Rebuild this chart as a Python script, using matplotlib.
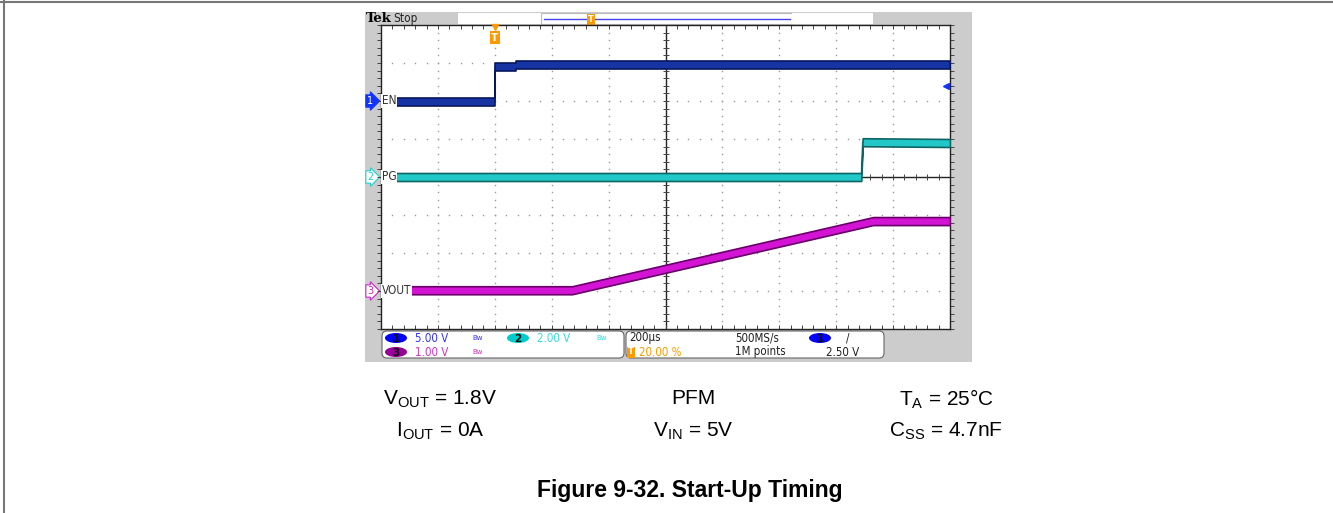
import matplotlib.pyplot as plt
from matplotlib.patches import Rectangle, FancyBboxPatch, Ellipse
import numpy as np

plt.rcParams['font.family'] = ['Liberation Sans', 'DejaVu Sans']
plt.rcParams['mathtext.fontset'] = 'custom'
plt.rcParams['mathtext.rm'] = 'Liberation Sans'

# scope setup: 200us/div, trigger at 20% of record
t_per_div = 200
t_start = -400
n_xdiv, n_ydiv = 10, 8

# channel scale (V/div) and ground level (div from bottom)
en_scale, en_gnd = 5.0, 6.0
pg_scale, pg_gnd = 2.0, 4.0
vo_scale, vo_gnd = 1.0, 1.0

# traces (time in us, level in V)
en_t = [-400, 0, 0, 75, 75, 1600]
en_v = [-0.08, -0.08, 4.5, 4.5, 4.75, 4.75]
pg_t = [-400, 1288, 1293, 1600]
pg_v = [0.0, 0.0, 1.83, 1.79]
vo_t = [-400, 272, 1330, 1600]
vo_v = [0.02, 0.02, 1.84, 1.84]

trig_level = 2.5  # V on ch1

cond_rows = [[r'$\mathrm{V}_{\mathrm{OUT}}$ = 1.8V', 'PFM', r'$\mathrm{T}_{\mathrm{A}}$ = 25°C'],
             [r'$\mathrm{I}_{\mathrm{OUT}}$ = 0A', r'$\mathrm{V}_{\mathrm{IN}}$ = 5V', r'$\mathrm{C}_{\mathrm{SS}}$ = 4.7nF']]
cond_x = [440, 693, 946]
cond_y = [399, 431]
title = 'Figure 9-32. Start-Up Timing'

W, H = 1333, 513
fig = plt.figure(figsize=(W / 100, H / 100), dpi=100)

# page / scope chrome, in pixel coordinates
bg = fig.add_axes([0, 0, 1, 1])
bg.set_xlim(0, W)
bg.set_ylim(H, 0)
bg.axis('off')
bg.plot([3.5, 3.5], [0, H], color='#777777', lw=1.5)
bg.plot([0, W], [1.5, 1.5], color='#777777', lw=1.5)

bg.add_patch(Rectangle((365, 12), 607, 350, fc='#cccccc', ec='none'))
bg.add_patch(Rectangle((458, 13), 83, 11, fc='white', ec='none'))
bg.add_patch(Rectangle((541, 13), 251, 11, fc='white', ec='#bbbbbb', lw=0.8))
bg.add_patch(Rectangle((792, 13), 81, 11, fc='white', ec='none'))
bg.plot([544, 790], [18.5, 18.5], color='#4444ee', lw=1)
bg.text(591, 19, 'T', color='white', fontsize=6, ha='center', va='center', family='DejaVu Sans',
        fontweight='bold', bbox=dict(boxstyle='square,pad=0.12', fc='#ff9900', ec='none'))
bg.text(366, 18.5, 'Tek', fontsize=9.5, fontweight='bold', family='DejaVu Serif', va='center', ha='left')
bg.text(393, 18.5, 'Stop', fontsize=8.5, family='DejaVu Sans', fontstretch='condensed',
        va='center', ha='left', color='#222222')

# bottom readout boxes
sfont = dict(family='DejaVu Sans', fontstretch='condensed', fontsize=8.3)
bg.add_patch(FancyBboxPatch((382, 331), 242, 27, boxstyle='round,pad=0,rounding_size=5',
                            fc='white', ec='#666666', lw=0.8))
bg.add_patch(FancyBboxPatch((626, 331), 258, 27, boxstyle='round,pad=0,rounding_size=5',
                            fc='white', ec='#666666', lw=0.8))
for cx, cy, fc, lab in [(396, 338, '#0000ff', '1'), (518, 338, '#00cccc', '2'),
                        (396, 352, '#990099', '3'), (820, 338, '#0000ff', '1')]:
    bg.add_patch(Ellipse((cx, cy), 22, 10, fc=fc, ec='none'))
    bg.text(cx, cy + 0.5, lab, ha='center', va='center', fontweight='bold', color='#111111',
            family='DejaVu Sans', fontsize=7.5)
bg.text(415, 338, '5.00 V', color='#3333ff', va='center', **sfont)
bg.text(415, 352, '1.00 V', color='#cc33cc', va='center', **sfont)
bg.text(537, 338, '2.00 V', color='#33dddd', va='center', **sfont)
for bx, by, c in [(472, 338, '#3333ff'), (472, 352, '#cc33cc'), (596, 338, '#33dddd')]:
    bg.text(bx, by, 'Bw', color=c, va='center', fontsize=5, family='DejaVu Sans')
bg.text(629, 338, '200µs', color='#222222', va='center', **sfont)
bg.text(631, 352, 'T', color='white', va='center', ha='center', fontsize=6, family='DejaVu Sans',
        fontweight='bold', bbox=dict(boxstyle='square,pad=0.12', fc='#ff9900', ec='none'))
bg.text(639, 352, '20.00 %', color='#ff9900', va='center', **sfont)
bg.text(735, 338, '500MS/s', color='#222222', va='center', **sfont)
bg.text(735, 352, '1M points', color='#222222', va='center', **sfont)
bg.text(846, 338, '/', color='#222222', va='center', **sfont)
bg.text(826, 352, '2.50 V', color='#222222', va='center', **sfont)

# channel ground markers on the left
for gnd, lab, fc, ec, tc in [(en_gnd, '1', '#1133ff', '#1133ff', 'white'),
                             (pg_gnd, '2', 'white', '#22cccc', '#22cccc'),
                             (vo_gnd, '3', 'white', '#cc22cc', '#cc22cc')]:
    py = 329 - gnd * 38
    bg.text(367, py, lab, color=tc, ha='left', va='center', fontsize=7, family='DejaVu Sans',
            bbox=dict(boxstyle='rarrow,pad=0.12', fc=fc, ec=ec, lw=0.8))

# scope graticule
ax = fig.add_axes([381 / W, 1 - 329 / H, 569 / W, 304 / H])
ax.set_zorder(2)
t_end = t_start + n_xdiv * t_per_div
ax.set_xlim(t_start, t_end)
ax.set_ylim(0, n_ydiv)
ax.set_xticks([])
ax.set_yticks([])
for s in ax.spines.values():
    s.set_color('#222222')
    s.set_linewidth(1)

t_mid = t_start + n_xdiv / 2 * t_per_div
fine_t = np.arange(t_start, t_end + 1, t_per_div / 5)
fine_y = np.arange(0, n_ydiv + 0.01, 0.2)
dot = dict(ls='none', marker='s', ms=1.0, color='#999999', mec='none')
for k in range(1, n_xdiv):
    if k != n_xdiv // 2:
        ax.plot(np.full_like(fine_y, t_start + k * t_per_div), fine_y, **dot)
for k in range(1, n_ydiv):
    if k != n_ydiv // 2:
        ax.plot(fine_t, np.full_like(fine_t, k), **dot)
ax.axvline(t_mid, color='#222222', lw=1)
ax.axhline(n_ydiv / 2, color='#222222', lw=1)
tick = dict(ls='none', color='#444444', ms=5, mew=0.7)
ax.plot(np.full_like(fine_y, t_mid), fine_y, marker='_', **tick)
ax.plot(fine_t, np.full_like(fine_t, n_ydiv / 2), marker='|', **tick)
edge = dict(ls='none', color='#444444', ms=3, mew=0.7, clip_on=False)
ax.plot(np.full_like(fine_y, t_start), fine_y, marker=0, **edge)
ax.plot(np.full_like(fine_y, t_end), fine_y, marker=1, **edge)
ax.plot(fine_t, np.zeros_like(fine_t), marker=2, **edge)
ax.plot(fine_t, np.full_like(fine_t, n_ydiv), marker=3, **edge)

# traces: noisy band drawn as a filled strip, fast edges as a thin line behind it
half = 4 / 38  # half band height in div
for tt, vv, scale, gnd, c, dark, edge_c in [
        (en_t, en_v, en_scale, en_gnd, '#1634a4', '#08185e', '#6a7fae'),
        (pg_t, pg_v, pg_scale, pg_gnd, '#22c8c8', '#0f6464', '#7fc8c8'),
        (vo_t, vo_v, vo_scale, vo_gnd, '#d414d4', '#6a006a', '#b070b0')]:
    yy = gnd + np.array(vv) / scale
    ax.plot(tt, yy, color=edge_c, lw=1.2, zorder=4)
    ax.fill_between(tt, yy - half, yy + half, color=c, ec=dark, lw=1.2, zorder=5)

# trace labels
for gnd, lab in [(en_gnd, 'EN'), (pg_gnd, 'PG'), (vo_gnd, 'VOUT')]:
    ax.text(t_start + 3, gnd, lab, color='#333333', va='center', ha='left', fontsize=8.5,
            family='DejaVu Sans', fontstretch='condensed', zorder=6,
            bbox=dict(boxstyle='square,pad=0.08', fc='white', ec='none'))

# trigger position and level markers
ax.plot([0], [n_ydiv - 0.04], marker='v', color='#ff9900', ms=5, clip_on=False, zorder=7)
ax.text(0, n_ydiv - 0.33, 'T', color='white', ha='center', va='center', fontsize=7.5, family='DejaVu Sans',
        fontweight='bold', zorder=7, bbox=dict(boxstyle='square,pad=0.12', fc='#ff9900', ec='none'))
ax.plot([t_end - 14], [en_gnd + trig_level / en_scale - 0.1], marker='<', color='#1133ff', ms=4,
        clip_on=False, zorder=7)

# test conditions and caption
for row, ypix in zip(cond_rows, cond_y):
    for txt, xpix in zip(row, cond_x):
        bg.text(xpix, ypix, txt, ha='center', va='center', fontsize=15, color='black')
bg.text(690, 491, title, ha='center', va='center', fontsize=16.5, fontweight='bold')

fig.savefig('out.png', dpi=100)
